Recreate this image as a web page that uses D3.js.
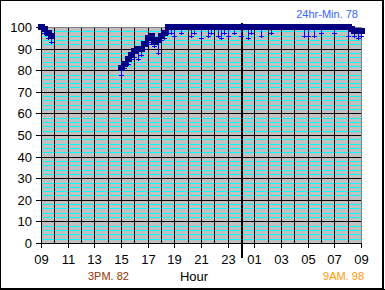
<!DOCTYPE html>
<html><head><meta charset="utf-8">
<script src="https://cdn.jsdelivr.net/npm/d3@7"></script>
<style>
html,body{margin:0;padding:0;background:#fff;}
svg{display:block;font-family:Arial,"Liberation Sans",sans-serif;}
</style></head>
<body><svg id="c" width="385" height="290"></svg>
<script>
// ---- data ----
const yTickValues = [0,10,20,30,40,50,60,70,80,90,100];
const xTickHours  = [9,11,13,15,17,19,21,23,25,27,29,31,33];
const xTickLabels = ["09","11","13","15","17","19","21","23","01","03","05","07","09"];
// time in hours since 00:00 of first day (values >24 belong to next day)
const times = [
  9.0, 9.25, 9.5, 9.75,
  15.0, 15.25, 15.5, 15.75, 16.0, 16.25, 16.5, 16.75, 17.0, 17.25, 17.5, 17.75, 18.0, 18.25, 18.5,
  18.75, 19.0, 19.25, 19.5, 19.75, 20.0, 20.25, 20.5, 20.75, 21.0, 21.25, 21.5, 21.75,
  22.0, 22.25, 22.5, 22.75, 23.0, 23.25, 23.5, 23.75, 24.0, 24.25, 24.5, 24.75,
  25.0, 25.25, 25.5, 25.75, 26.0, 26.25, 26.5, 26.75, 27.0, 27.25, 27.5, 27.75,
  28.0, 28.25, 28.5, 28.75, 29.0, 29.25, 29.5, 29.75, 30.0, 30.25, 30.5, 30.75,
  31.0, 31.25, 31.5, 31.75, 32.0, 32.25, 32.5, 32.75, 33.0
];
const values = [
  100, 99, 97, 96,
  81, 83, 85, 87, 89, 90, 90, 92, 95, 96, 93, 94, 96, 97, 100,
  100, 100, 100, 100, 100, 100, 100, 100, 100, 100, 100, 100, 100,
  100, 100, 100, 100, 100, 100, 100, 100, 100, 100, 100, 100,
  100, 100, 100, 100, 100, 100, 100, 100, 100, 100, 100, 100,
  100, 100, 100, 100, 100, 100, 100, 100, 100, 100, 100, 100,
  100, 100, 100, 100, 100, 99, 98, 98, 98
];
const mins = [
  100, 97, 95, 93,
  78, 81, 83, 85, 86, 85, 87, 90, 92, 93, 91, 88, 94, 95, 97,
  97, 96, 100, 97, 100, 100, 96, 97, 100, 95, 100, 96, 97,
  100, 96, 95, 97, 96, 100, 97, 100, 96, 100, 95, 97,
  100, 100, 96, 100, 100, 97, 100, 100, 100, 100, 100, 100,
  100, 100, 100, 96, 96, 100, 96, 100, 97, 100, 100, 100,
  97, 100, 100, 100, 96, 100, 96, 95, 96
];

// ---- layout ----
const svg = d3.select("#c");
const L = 41, R = 361, T = 27, B = 243;
const x = d3.scaleLinear().domain([9, 33]).rangeRound([L, R]);
const y = d3.scaleLinear().domain([0, 100]).rangeRound([B, T]);

// outer frame
svg.append("rect").attr("x",0.5).attr("y",0.5).attr("width",382).attr("height",288)
  .attr("fill","#fff").attr("stroke","#000");
svg.append("line").attr("x1",383.5).attr("x2",383.5).attr("y1",0).attr("y2",290).attr("stroke","#000");
svg.append("line").attr("x1",0).attr("x2",385).attr("y1",289.5).attr("y2",289.5).attr("stroke","#000");

// plot area
svg.append("rect").attr("x",L).attr("y",T).attr("width",R-L).attr("height",B-T).attr("fill","#c0c0c0");

// minor horizontal grid (cyan) every 2 units
const minor = d3.range(0, 100, 2).filter(v => v % 10 !== 0);
svg.append("g").selectAll("line").data(minor).join("line")
  .attr("x1",L).attr("x2",R).attr("y1",d=>y(d)+0.5).attr("y2",d=>y(d)+0.5)
  .attr("stroke","#00ffff");
// major horizontal grid
svg.append("g").selectAll("line").data(yTickValues.filter(v=>v>0 && v<100)).join("line")
  .attr("x1",L).attr("x2",R).attr("y1",d=>y(d)+0.5).attr("y2",d=>y(d)+0.5)
  .attr("stroke","#000");
// vertical grid each hour
const hours = d3.range(10, 33);
svg.append("g").selectAll("line").data(hours).join("line")
  .attr("x1",d=>x(d)+0.5).attr("x2",d=>x(d)+0.5).attr("y1",T).attr("y2",B)
  .attr("stroke","#000");
// plot border top/right
svg.append("path").attr("d",`M${L},${T+0.5}H${R+0.5}V${B}`).attr("fill","none").attr("stroke","#808080");

// midnight line
svg.append("line").attr("x1",x(24)+1).attr("x2",x(24)+1).attr("y1",23).attr("y2",258)
  .attr("stroke","#000").attr("stroke-width",2);

// axes
const yAxis = d3.axisLeft(y).tickValues(yTickValues).tickSize(5).tickPadding(4);
const gy = svg.append("g").attr("transform",`translate(${L},0)`).call(yAxis);
const xAxis = d3.axisBottom(x).tickValues(xTickHours).tickSize(5).tickPadding(7)
  .tickFormat((d,i)=>xTickLabels[i]);
const gx = svg.append("g").attr("transform",`translate(0,${B})`).call(xAxis);
[gy,gx].forEach(g=>{
  g.selectAll("text").attr("font-size",13).attr("fill","#000").attr("font-family","Arial, 'Liberation Sans', sans-serif");
  g.selectAll("line").attr("stroke","#000");
  g.select(".domain").attr("stroke","#000");
});
gy.select(".domain").attr("d",`M0.5,${T}V${B}`);
gx.select(".domain").attr("d",`M${L},0.5H${R}`);

// data: stems to min values
const pts = times.map((t,i)=>({t, v:values[i], m:mins[i]}));
const low = pts.filter(p=>p.m < p.v);
const gs = svg.append("g").attr("stroke","#0000ff").attr("stroke-width",1);
gs.selectAll("line.stem").data(low).join("line").attr("class","stem")
  .attr("x1",p=>x(p.t)+0.5).attr("x2",p=>x(p.t)+0.5)
  .attr("y1",p=>y(p.v)).attr("y2",p=>y(p.m)+2);
gs.selectAll("line.cap").data(low).join("line").attr("class","cap")
  .attr("x1",p=>x(p.t)-2).attr("x2",p=>x(p.t)+3)
  .attr("y1",p=>y(p.m)+0.5).attr("y2",p=>y(p.m)+0.5);
// markers
svg.append("g").selectAll("rect").data(pts).join("rect")
  .attr("x",p=>x(p.t)-3).attr("y",p=>y(p.v)-3).attr("width",7).attr("height",6)
  .attr("fill","#000080");

// texts
svg.append("text").attr("x",194).attr("y",281).attr("text-anchor","middle")
  .attr("font-size",13).text("Hour");
svg.append("text").attr("x",88).attr("y",280).attr("font-size",11).attr("fill","#993300").text("3PM. 82");
svg.append("text").attr("x",364).attr("y",280).attr("text-anchor","end").attr("font-size",11).attr("fill","#ff9900").text("9AM. 98");
svg.append("text").attr("x",358).attr("y",18).attr("text-anchor","end").attr("font-size",11).attr("fill","#3366ff").text("24hr-Min. 78");
</script></body></html>
